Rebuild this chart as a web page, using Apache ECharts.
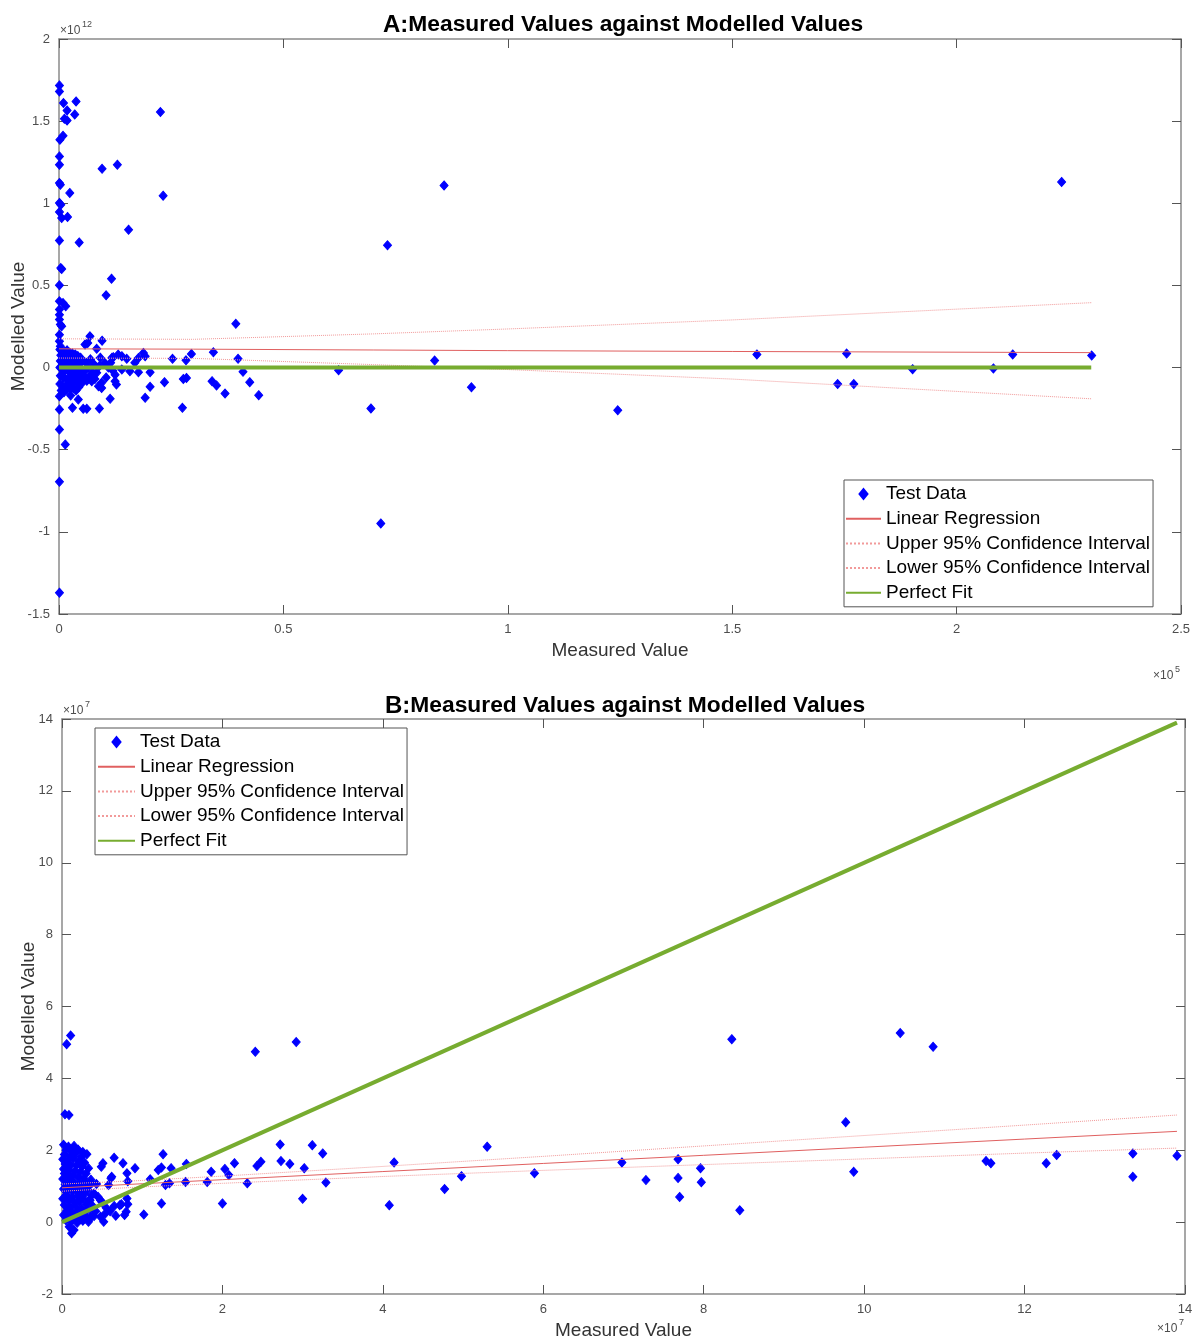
<!DOCTYPE html>
<html>
<head>
<meta charset="utf-8">
<script src="https://cdn.jsdelivr.net/npm/echarts@6/dist/echarts.min.js"></script>
<style>
  html, body { margin: 0; padding: 0; background: #fff; }
  #chart { width: 1197px; height: 1339px; }
</style>
</head>
<body>
<div id="chart"></div>
<script>
// panel A: measured in units of 1e5, modelled in units of 1e12
const testDataA = [
  [0.001, 1.717], [0.001, 1.681], [0.010, 1.610], [0.038, 1.620], [0.018, 1.565], [0.035, 1.541],
  [0.012, 1.515], [0.018, 1.504], [0.226, 1.555], [0.009, 1.411], [0.002, 1.387], [0.001, 1.285],
  [0.001, 1.235], [0.096, 1.210], [0.130, 1.235], [0.001, 1.123], [0.003, 1.113], [0.024, 1.063],
  [0.232, 1.046], [0.001, 1.002], [0.004, 0.991], [0.001, 0.947], [0.006, 0.910], [0.019, 0.917],
  [0.155, 0.839], [0.001, 0.774], [0.045, 0.762], [0.732, 0.744], [0.004, 0.606], [0.006, 0.600],
  [0.117, 0.541], [0.001, 0.501], [0.105, 0.440], [0.001, 0.403], [0.009, 0.393], [0.015, 0.373],
  [0.001, 0.353], [0.001, 0.322], [0.001, 0.292], [0.003, 0.262], [0.006, 0.251], [0.394, 0.266],
  [0.001, 0.200], [0.001, 0.160], [0.003, 0.130], [0.858, 1.109], [2.234, 1.130],
  [0.069, 0.190], [0.064, 0.150], [0.058, 0.140], [0.084, 0.114], [0.096, 0.164], [0.102, 0.029],
  [0.121, 0.063], [0.132, 0.079], [0.140, 0.069], [0.151, 0.053], [0.125, -0.043], [0.125, -0.083],
  [0.128, -0.103], [0.140, -0.012], [0.158, -0.022], [0.169, 0.029], [0.177, 0.059], [0.188, 0.089],
  [0.192, 0.069], [0.177, -0.028], [0.095, -0.093], [0.088, -0.114], [0.073, -0.083], [0.076, -0.032],
  [0.065, -0.063], [0.084, -0.032], [0.095, -0.124], [0.114, -0.190], [0.203, -0.117], [0.192, -0.184],
  [0.235, -0.089], [0.253, 0.053], [0.277, -0.069], [0.284, -0.063], [0.283, 0.044], [0.295, 0.083],
  [0.275, -0.245], [0.344, 0.093], [0.341, -0.083], [0.351, -0.109], [0.370, -0.158], [0.399, 0.053],
  [0.410, -0.026], [0.425, -0.089], [0.445, -0.168], [0.203, -0.028],
  [0.026, -0.170], [0.043, -0.195], [0.030, -0.245], [0.054, -0.251], [0.062, -0.251], [0.090, -0.249],
  [0.001, -0.174], [0.001, -0.255], [0.001, -0.377], [0.014, -0.468], [0.001, -0.695], [0.001, -1.370],
  [0.623, -0.016], [0.695, -0.249], [0.717, -0.949], [0.837, 0.043], [0.919, -0.120], [1.245, -0.260],
  [1.555, 0.080], [1.735, -0.100], [1.755, 0.085], [1.771, -0.100], [1.902, -0.010], [2.082, -0.005],
  [2.125, 0.080], [2.301, 0.073],
  [0.002, 0.110], [0.006, 0.100], [0.012, 0.095], [0.018, 0.105], [0.024, 0.090], [0.030, 0.085],
  [0.036, 0.080], [0.042, 0.070], [0.048, 0.060], [0.004, 0.075], [0.010, 0.065], [0.016, 0.070],
  [0.022, 0.055], [0.028, 0.050], [0.034, 0.045], [0.040, 0.035], [0.046, 0.025], [0.052, 0.040],
  [0.003, 0.040], [0.008, 0.030], [0.014, 0.020], [0.020, 0.025], [0.026, 0.010], [0.032, 0.005],
  [0.038, -0.005], [0.044, -0.010], [0.050, -0.020], [0.002, 0.000], [0.007, -0.010], [0.013, -0.020],
  [0.019, -0.015], [0.025, -0.030], [0.031, -0.040], [0.037, -0.045], [0.043, -0.055], [0.049, -0.060],
  [0.055, -0.050], [0.003, -0.050], [0.009, -0.060], [0.015, -0.070], [0.021, -0.065], [0.027, -0.080],
  [0.033, -0.090], [0.039, -0.085], [0.045, -0.100], [0.051, -0.095], [0.002, -0.100], [0.008, -0.110],
  [0.014, -0.120], [0.020, -0.105], [0.026, -0.130], [0.032, -0.125], [0.038, -0.140], [0.044, -0.120],
  [0.005, -0.140], [0.011, -0.150], [0.017, -0.135], [0.060, 0.030], [0.058, -0.020], [0.062, -0.080],
  [0.066, 0.000], [0.070, 0.050], [0.072, -0.040], [0.078, 0.020], [0.080, -0.070], [0.090, 0.010],
  [0.092, 0.060], [0.105, -0.060], [0.110, 0.000], [0.115, 0.030], [0.120, -0.020], [0.118, 0.060]
];
const fitXA = [0, 0.3, 0.7, 1.0, 1.5, 2.3];
const regressionA = [0.114, 0.112, 0.107, 0.103, 0.098, 0.091];
const upperA = [0.175, 0.172, 0.205, 0.235, 0.29, 0.395];
const lowerA = [0.058, 0.056, 0.018, -0.012, -0.07, -0.19];
const perfectA = [[0, 0], [2.3, 0.00000023]];

// panel B: both axes in units of 1e7
const testDataB = [
  [0.058, 4.95], [0.108, 5.19], [0.037, 3.00], [0.087, 2.98], [2.41, 4.74], [2.92, 5.01],
  [2.72, 2.16], [3.12, 2.14], [3.25, 1.91], [2.73, 1.70], [2.84, 1.62], [3.02, 1.50],
  [3.29, 1.10], [3.00, 0.65], [2.43, 1.56], [2.48, 1.68], [2.31, 1.08], [2.15, 1.64],
  [2.08, 1.31], [2.03, 1.48], [2.00, 0.52], [1.86, 1.40], [1.81, 1.12], [1.54, 1.12],
  [1.55, 1.62], [1.26, 1.89], [1.36, 1.50], [1.24, 1.52], [1.20, 1.45], [1.29, 1.03],
  [1.34, 1.08], [1.24, 0.52], [1.10, 1.19], [1.02, 0.21], [0.91, 1.50], [0.81, 1.36],
  [0.82, 1.14], [0.76, 1.64], [0.65, 1.79], [0.51, 1.64], [0.49, 1.54], [0.61, 1.22],
  [0.58, 1.03], [0.31, 1.89], [0.81, 0.66], [0.82, 0.50], [0.67, 0.18], [0.80, 0.29],
  [0.78, 0.20], [0.72, 0.47], [0.52, 0.01], [0.54, 0.24], [0.33, 0.01], [0.40, 0.17],
  [0.37, 0.75], [0.35, 0.61], [0.12, -0.31], [0.15, -0.22], [0.09, -0.13], [0.19, 0.87],
  [0.22, 0.61], [0.48, 0.61], [0.39, 0.38], [0.35, 0.10], [0.14, -0.22], [0.43, 1.06],
  [0.37, 1.08], [0.62, 1.26], [0.74, 0.50],
  [4.14, 1.66], [4.08, 0.47], [5.30, 2.10], [4.77, 0.92], [4.98, 1.28], [5.89, 1.36],
  [6.98, 1.66], [7.28, 1.17], [7.68, 1.75], [7.68, 1.23], [7.70, 0.70], [7.96, 1.50],
  [7.97, 1.11], [8.35, 5.09], [8.45, 0.33], [9.77, 2.78], [9.87, 1.40], [10.45, 5.26],
  [10.86, 4.88], [11.52, 1.70], [11.58, 1.64], [12.27, 1.64], [12.40, 1.87], [13.35, 1.91],
  [13.35, 1.26], [13.90, 1.85],
  [0.02, 2.15], [0.08, 2.10], [0.15, 2.12], [0.05, 2.00], [0.12, 1.98], [0.20, 2.02],
  [0.26, 1.95], [0.03, 1.88], [0.10, 1.85], [0.17, 1.90], [0.24, 1.82], [0.01, 1.75],
  [0.07, 1.72], [0.14, 1.78], [0.21, 1.70], [0.28, 1.66], [0.04, 1.62], [0.11, 1.60],
  [0.18, 1.58], [0.25, 1.55], [0.33, 1.50], [0.02, 1.48], [0.09, 1.45], [0.16, 1.42],
  [0.23, 1.40], [0.30, 1.35], [0.06, 1.32], [0.13, 1.30], [0.20, 1.26], [0.27, 1.22],
  [0.36, 1.18], [0.01, 1.20], [0.08, 1.15], [0.15, 1.12], [0.22, 1.08], [0.29, 1.10],
  [0.04, 1.05], [0.11, 1.00], [0.18, 0.98], [0.25, 0.95], [0.32, 0.90], [0.02, 0.92],
  [0.07, 0.85], [0.14, 0.88], [0.21, 0.82], [0.28, 0.78], [0.40, 0.80], [0.05, 0.75],
  [0.12, 0.70], [0.19, 0.72], [0.26, 0.66], [0.34, 0.62], [0.45, 0.70], [0.01, 0.65],
  [0.08, 0.60], [0.15, 0.55], [0.22, 0.58], [0.30, 0.50], [0.38, 0.45], [0.50, 0.55],
  [0.03, 0.48], [0.10, 0.42], [0.17, 0.45], [0.24, 0.38], [0.31, 0.35], [0.42, 0.30],
  [0.55, 0.40], [0.06, 0.32], [0.13, 0.28], [0.20, 0.30], [0.27, 0.22], [0.36, 0.18],
  [0.48, 0.15], [0.02, 0.20], [0.09, 0.15], [0.16, 0.12], [0.23, 0.08], [0.30, 0.10],
  [0.05, 0.05], [0.12, 0.02], [0.19, -0.02], [0.26, 0.04], [0.60, 0.30], [0.65, 0.45],
  [0.03, 1.35], [0.06, 1.55], [0.10, 1.25], [0.35, 1.05]
];
const fitXB = [0, 1, 2, 4, 6, 8, 10, 12, 13.9];
const regressionB = [0.955, 1.068, 1.181, 1.407, 1.633, 1.859, 2.085, 2.311, 2.526];
const upperB = [1.06, 1.16, 1.28, 1.55, 1.83, 2.12, 2.41, 2.70, 2.98];
const lowerB = [0.86, 0.98, 1.08, 1.27, 1.44, 1.60, 1.76, 1.92, 2.06];
const perfectB = [[0, 0], [13.9, 13.9]];

const legendNames = ['Test Data', 'Linear Regression', 'Upper 95% Confidence Interval',
  'Lower 95% Confidence Interval', 'Perfect Fit'];

const font = 'Liberation Sans, Arial, sans-serif';
const axisColor = '#8a8a8a';
const labelColor = '#4d4d4d';

function zip (xs, ys) {
  return xs.map((x, i) => [x, ys[i]]);
}

function axis (grid, min, max, interval, position, name, gap) {
  const mirror = position === 'top' || position === 'right';
  return {
    type: 'value', gridIndex: grid, position, min, max, interval,
    name: mirror ? '' : name, nameLocation: 'middle', nameGap: gap, nameMoveOverlap: false,
    nameTextStyle: { fontSize: 19, color: '#333', fontFamily: font },
    axisLine: { show: true, onZero: false, lineStyle: { color: axisColor, width: 1.5 } },
    axisTick: { show: true, inside: true, length: 9, lineStyle: { color: '#555', width: 1 } },
    axisLabel: { show: !mirror, color: labelColor, fontSize: 13, fontFamily: font, margin: 9,
      showMinLabel: true, showMaxLabel: true },
    splitLine: { show: false }
  };
}

function panelSeries (grid, points, xs, reg, up, low, perfect) {
  const base = { xAxisIndex: grid * 2, yAxisIndex: grid * 2 };
  const line = (name, data, style, z) => Object.assign({
    type: 'line', name, data, showSymbol: false, symbol: 'none', lineStyle: style,
    itemStyle: { color: style.color }, z
  }, base);
  return [
    Object.assign({
      type: 'scatter', name: 'Test Data', data: points, symbol: 'diamond', symbolSize: [8, 9],
      itemStyle: { color: '#0000ff', borderColor: '#0000ff', borderWidth: 1, opacity: 1 }, z: 2
    }, base),
    line('Linear Regression', zip(xs, reg), { color: '#e06060', width: 1 }, 3),
    line('Upper 95% Confidence Interval', zip(xs, up), { color: '#f29a9a', width: 1, type: 'dotted' }, 3),
    line('Lower 95% Confidence Interval', zip(xs, low), { color: '#f29a9a', width: 1, type: 'dotted' }, 3),
    line('Perfect Fit', perfect, { color: '#77ac30', width: 4 }, 4)
  ];
}

function legend (left, top, padLeft, iconWidth) {
  const data = legendNames.map((name, i) => i === 0
    ? { name, icon: 'path://M4,0L8,5L4,10L0,5Z' }
    : { name, itemStyle: { opacity: 0 } });
  return {
    orient: 'vertical', left, top, data, selectedMode: false, symbolKeepAspect: true,
    itemWidth: iconWidth, itemHeight: 10, itemGap: 4.7, padding: [4, 3, 4, padLeft],
    borderColor: '#555', borderWidth: 1, backgroundColor: '#fff',
    textStyle: { fontSize: 19, color: '#000', fontFamily: font, lineHeight: 20 }, z: 10
  };
}

function title (label, left, top) {
  return {
    text: '{a|' + label + ':}{b|Measured Values against Modelled Values}', left, top,
    textStyle: { rich: {
      a: { fontSize: 24, color: '#000', fontFamily: font },
      b: { fontSize: 22.8, fontWeight: 'bold', color: '#000', fontFamily: font }
    } }
  };
}

function exponent (left, top, power) {
  return [
    { type: 'text', left, top, style: { text: '×10', fontSize: 12, fill: labelColor, fontFamily: font } },
    { type: 'text', left: left + 22, top: top - 5, style: { text: power, fontSize: 9, fill: labelColor, fontFamily: font } }
  ];
}

const chart = echarts.init(document.getElementById('chart'));
chart.setOption({
  animation: false,
  backgroundColor: '#fff',
  title: [title('A', 378, 8), title('B', 380, 689)],
  grid: [
    { left: 59, top: 39, width: 1122, height: 575, outerBoundsMode: 'none', containLabel: false },
    { left: 62, top: 719, width: 1123, height: 575, outerBoundsMode: 'none', containLabel: false }
  ],
  xAxis: [
    axis(0, 0, 2.5, 0.5, 'bottom', 'Measured Value', 27),
    axis(0, 0, 2.5, 0.5, 'top'),
    axis(1, 0, 14, 2, 'bottom', 'Measured Value', 27),
    axis(1, 0, 14, 2, 'top')
  ],
  yAxis: [
    axis(0, -1.5, 2, 0.5, 'left', 'Modelled Value', 31),
    axis(0, -1.5, 2, 0.5, 'right'),
    axis(1, -2, 14, 2, 'left', 'Modelled Value', 24),
    axis(1, -2, 14, 2, 'right')
  ],
  legend: [legend(844, 480, 1, 35), legend(95, 728, 2, 37)],
  graphic: [].concat(
    exponent(60, 25, '12'), exponent(1153, 670, '5'),
    exponent(63, 705, '7'), exponent(1157, 1323, '7')
  ),
  series: [].concat(
    panelSeries(0, testDataA, fitXA, regressionA, upperA, lowerA, perfectA),
    panelSeries(1, testDataB, fitXB, regressionB, upperB, lowerB, perfectB)
  )
});
</script>
</body>
</html>
